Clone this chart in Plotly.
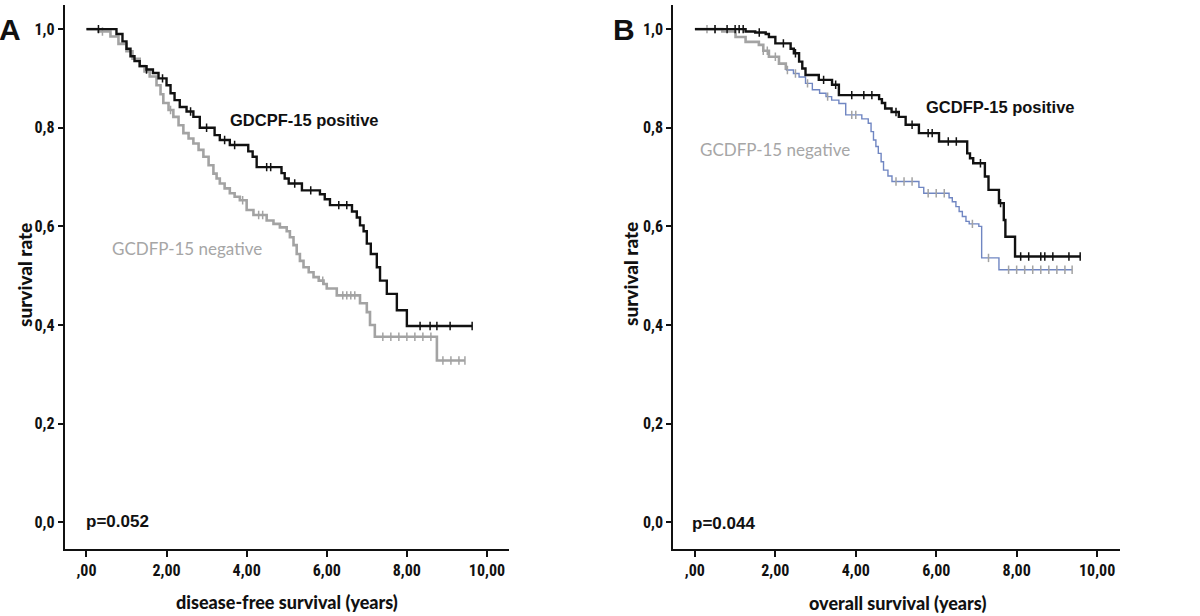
import numpy as np
import plotly.graph_objects as go

# ---------------- data ----------------
# Panel A: disease-free survival
a_pos_t = [0.0, 0.75, 0.9, 1.0, 1.1, 1.2, 1.33, 1.5, 1.66, 1.8, 2.0, 2.1, 2.2, 2.33, 2.5, 2.67,
           2.83, 3.2, 3.33, 3.58, 4.04, 4.15, 4.25, 4.87, 4.95, 5.05, 5.38, 5.83, 5.95, 6.08,
           6.63, 6.75, 6.83, 6.92, 7.0, 7.1, 7.25, 7.33, 7.5, 7.75, 8.0, 9.63]
a_pos_s = [1.0, 0.99, 0.975, 0.96, 0.945, 0.935, 0.925, 0.918, 0.911, 0.9, 0.886, 0.87, 0.856,
           0.842, 0.833, 0.822, 0.80, 0.785, 0.775, 0.765, 0.752, 0.741, 0.72, 0.708, 0.697,
           0.687, 0.673, 0.665, 0.655, 0.643, 0.63, 0.618, 0.602, 0.59, 0.565, 0.544, 0.517,
           0.49, 0.463, 0.43, 0.398, 0.398]
a_pos_c = [0.3, 1.5, 1.9, 2.6, 3.0, 3.45, 3.7, 4.5, 4.6, 5.2, 5.6, 6.3, 6.5,
           8.33, 8.58, 8.75, 9.08, 9.63]

a_neg_t = [0.0, 0.3, 0.6, 0.8, 1.0, 1.15, 1.33, 1.45, 1.58, 1.75, 1.85, 1.92, 2.05, 2.17, 2.3,
           2.42, 2.55, 2.67, 2.8, 2.92, 3.05, 3.17, 3.25, 3.33, 3.45, 3.58, 3.7, 3.83, 4.0,
           4.17, 4.5, 4.67, 4.83, 5.0, 5.08, 5.17, 5.25, 5.33, 5.42, 5.55, 5.67, 5.8, 5.92,
           6.0, 6.25, 6.83, 7.0, 7.08, 7.2, 8.75, 9.45]
a_neg_s = [1.0, 0.995, 0.985, 0.97, 0.955, 0.94, 0.925, 0.914, 0.904, 0.886, 0.868, 0.85,
           0.836, 0.822, 0.805, 0.789, 0.778, 0.768, 0.755, 0.741, 0.724, 0.707, 0.697, 0.687,
           0.677, 0.667, 0.66, 0.653, 0.633, 0.623, 0.612, 0.605, 0.598, 0.59, 0.578, 0.562,
           0.544, 0.53, 0.517, 0.507, 0.497, 0.49, 0.483, 0.474, 0.46, 0.444, 0.426, 0.40,
           0.376, 0.328, 0.328]
a_neg_c = [0.4, 2.1, 3.9, 4.3, 4.4, 5.9, 6.4, 6.5, 6.6, 6.7, 7.4, 7.6, 7.8, 8.0, 8.2, 8.4,
           8.6, 8.9, 9.1, 9.3, 9.45]

# Panel B: overall survival
b_pos_t = [0.0, 1.26, 1.5, 1.76, 1.84, 2.0, 2.38, 2.46, 2.59, 2.67, 2.75, 3.08, 3.41, 3.58,
           4.58, 4.65, 4.73, 4.89, 5.07, 5.24, 5.57, 6.07, 6.77, 6.84, 6.92, 7.21, 7.3, 7.56,
           7.68, 7.72, 7.96, 9.58]
b_pos_s = [1.0, 0.995, 0.993, 0.99, 0.984, 0.971, 0.96, 0.951, 0.934, 0.92, 0.907, 0.897,
           0.887, 0.866, 0.858, 0.850, 0.839, 0.832, 0.822, 0.806, 0.789, 0.772, 0.748, 0.738,
           0.728, 0.701, 0.674, 0.647, 0.613, 0.579, 0.539, 0.539]
b_pos_c = [0.5, 0.8, 1.0, 1.1, 1.2, 1.6, 2.2, 2.5, 3.2, 3.5, 3.9, 4.2, 4.4, 5.0, 5.4, 5.8,
           5.9, 6.3, 6.5, 7.1, 7.6, 8.1, 8.3, 8.6, 8.7, 8.9, 9.3, 9.58]

b_neg_t = [0.0, 0.68, 1.01, 1.26, 1.59, 1.7, 1.84, 2.09, 2.26, 2.45, 2.59, 2.75, 2.92, 3.1,
           3.26, 3.4, 3.58, 3.75, 4.15, 4.31, 4.38, 4.44, 4.5, 4.56, 4.63, 4.69, 4.8, 4.9,
           5.57, 5.69, 6.32, 6.4, 6.49, 6.57, 6.65, 6.74, 6.82, 7.06, 7.13, 7.56, 9.38]
b_neg_s = [1.0, 0.995, 0.984, 0.974, 0.968, 0.956, 0.944, 0.93, 0.917, 0.91, 0.903, 0.89,
           0.877, 0.87, 0.863, 0.856, 0.849, 0.826, 0.818, 0.809, 0.792, 0.775, 0.762, 0.748,
           0.731, 0.714, 0.702, 0.691, 0.679, 0.667, 0.658, 0.65, 0.64, 0.63, 0.62, 0.61,
           0.605, 0.60, 0.536, 0.512, 0.512]
b_neg_c = [0.3, 0.5, 1.7, 1.8, 2.0, 2.3, 2.5, 2.8, 3.3, 3.9, 4.0, 5.0, 5.2, 5.4, 5.8, 6.0,
           6.2, 6.9, 7.3, 7.8, 8.0, 8.2, 8.4, 8.6, 8.8, 9.0, 9.2, 9.38]

x_tickvals = [0, 2, 4, 6, 8, 10]
x_ticktext = [",00", "2,00", "4,00", "6,00", "8,00", "10,00"]
y_tickvals = [0.0, 0.2, 0.4, 0.6, 0.8, 1.0]
y_ticktext = ["0,0", "0,2", "0,4", "0,6", "0,8", "1,0"]

# ---------------- styling ----------------
BLACK = "#111111"
GRAY = "#a3a3a3"
BLUE = "#7086c2"
TICKFONT = dict(family="Liberation Sans Narrow, Arial Narrow, Roboto Condensed, DejaVu Sans Condensed, sans-serif",
                size=16, color="#111111", weight="bold")


def censor_y(times, surv, ct):
    idx = np.searchsorted(np.array(times), np.array(ct), side="right") - 1
    return np.array(surv)[idx]


fig = go.Figure()


def add_line(t, s, color, width, xa, ya):
    fig.add_trace(go.Scatter(x=t, y=s, mode="lines", line=dict(color=color, width=width, shape="hv"),
                             xaxis=xa, yaxis=ya, showlegend=False, hoverinfo="skip"))


def add_censor(t, s, c, color, xa, ya):
    fig.add_trace(go.Scatter(x=c, y=censor_y(t, s, c), mode="markers",
                             marker=dict(symbol="line-ns", size=6, line=dict(color=color, width=1.5)),
                             xaxis=xa, yaxis=ya, showlegend=False, hoverinfo="skip"))


add_line(a_neg_t, a_neg_s, GRAY, 2.6, "x", "y")
add_censor(a_neg_t, a_neg_s, a_neg_c, GRAY, "x", "y")
add_line(a_pos_t, a_pos_s, BLACK, 2.4, "x", "y")
add_censor(a_pos_t, a_pos_s, a_pos_c, BLACK, "x", "y")

# panel B negative: early (overlapping) part grey, rest blue
split = 9
add_line(b_neg_t[:split], b_neg_s[:split], GRAY, 2.6, "x2", "y2")
add_line(b_neg_t[split - 1:], b_neg_s[split - 1:], BLUE, 1.4, "x2", "y2")
add_censor(b_neg_t, b_neg_s, b_neg_c, GRAY, "x2", "y2")
add_line(b_pos_t, b_pos_s, BLACK, 2.4, "x2", "y2")
add_censor(b_pos_t, b_pos_s, b_pos_c, BLACK, "x2", "y2")

xr = [-0.54, 10.56]
yr = [-0.054, 1.049]
ydom = [0.109, 0.992]

common_x = dict(range=xr, tickvals=x_tickvals, ticktext=x_ticktext, showline=True, linecolor=BLACK,
                linewidth=2, ticks="outside", ticklen=6, tickwidth=2, tickcolor=BLACK,
                showgrid=False, zeroline=False, tickfont=TICKFONT)
common_y = dict(range=yr, tickvals=y_tickvals, ticktext=y_ticktext, showline=True, linecolor=BLACK,
                linewidth=2, ticks="outside", ticklen=5, tickwidth=2, tickcolor=BLACK,
                showgrid=False, zeroline=False, tickfont=TICKFONT)

fig.update_layout(
    width=1200, height=616,
    margin=dict(l=0, r=0, t=0, b=0, autoexpand=False),
    paper_bgcolor="white", plot_bgcolor="white",
    xaxis=dict(domain=[0.054, 0.4245], anchor="y", **common_x),
    yaxis=dict(domain=ydom, anchor="x", **common_y),
    xaxis2=dict(domain=[0.561, 0.933], anchor="y2", **common_x),
    yaxis2=dict(domain=ydom, anchor="x2", **common_y),
)

ann = []


def txt(x, y, s, font, xanchor="center", textangle=0):
    ann.append(dict(x=x / 1200, y=1 - y / 616, xref="paper", yref="paper", text=s,
                    showarrow=False, xanchor=xanchor, yanchor="middle", font=font,
                    textangle=textangle))


BOLDARIAL = dict(family="Liberation Sans, Arial, sans-serif", size=16.5, color="#111111", weight="bold")
GRAYTXT = dict(family="Lato, Open Sans, sans-serif", size=17, color="#a6a6a6")
PFONT = dict(family="Liberation Sans, Arial, sans-serif", size=17, color="#111111", weight="bold")
LETTER = dict(family="Liberation Sans, Arial, sans-serif", size=30, color="#111111", weight="bold")
TITLEB = dict(family="Lato, Open Sans, sans-serif", size=18, color="#111111", weight=900)
YTITLE = dict(family="Lato, Open Sans, sans-serif", size=19, color="#111111", weight=900)

txt(10, 30, "A", LETTER)
txt(624, 30, "B", LETTER)
txt(304, 120, "GDCPF-15 positive", BOLDARIAL)
txt(1001, 107, "GCDFP-15 positive", BOLDARIAL)
txt(187, 248, "GCDFP-15 negative", GRAYTXT)
txt(775, 150, "GCDFP-15 negative", GRAYTXT)
txt(84, 521, "p=0.052", PFONT, xanchor="left")
txt(690, 523, "p=0.044", PFONT, xanchor="left")
txt(287, 602, "disease-free survival (years)", TITLEB)
txt(897, 603, "overall survival (years)", TITLEB)
txt(24, 275, "survival rate", YTITLE, textangle=-90)
txt(630, 274, "survival rate", YTITLE, textangle=-90)

fig.update_layout(annotations=ann)
fig.write_html("out.html", config={"displayModeBar": False},
               post_script="document.body.style.margin='0';document.body.style.overflow='hidden';")
